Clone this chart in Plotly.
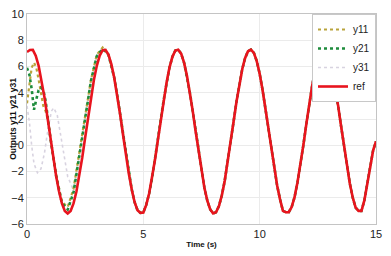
import plotly.graph_objects as go

# Reference signal, sampled every 0.125 s from 0 to 15 s
t_ref = [i * 0.125 for i in range(121)]
ref = [7.10, 7.26, 7.27, 6.83, 6.06, 4.98, 3.66, 2.18, 0.62, -0.91,
       -2.32, -3.51, -4.43, -5.00, -5.20, -5.01, -4.43, -3.53, -2.34, -0.93,
       0.59, 2.15, 3.64, 4.97, 6.05, 6.83, 7.24, 7.26, 6.91, 6.18,
       5.14, 3.85, 2.38, 0.82, -0.71, -2.15, -3.36, -4.34, -4.95, -5.15,
       -5.12, -4.54, -3.68, -2.53, -1.13, 0.39, 1.96, 3.46, 4.79, 5.93,
       6.74, 7.21, 7.28, 6.98, 6.30, 5.29, 4.03, 2.58, 1.03, -0.52,
       -1.97, -3.24, -4.23, -4.89, -5.19, -5.10, -4.63, -3.81, -2.69, -1.31,
       0.19, 1.75, 3.27, 4.65, 5.79, 6.65, 7.16, 7.29, 7.04, 6.41,
       5.45, 4.21, 2.78, 1.24, -0.31, -1.78, -3.07, -4.11, -5.00, -5.10,
       -5.10, -4.71, -3.95, -2.84, -1.51, -0.03, 1.54, 3.07, 4.46, 5.66,
       6.56, 7.12, 7.30, 7.09, 6.51, 5.59, 4.39, 2.98, 1.45, -0.11,
       -1.59, -2.91, -3.98, -4.75, -5.00, -5.00, -4.20, -3.00, -1.60, -0.40,
       0.30]

# Early transient of the outputs (before they settle onto ref at t = 3.75 s)
t_y11 = [0, 0.1, 0.2, 0.3, 0.4, 0.5, 0.6, 0.7, 0.8, 0.9, 1.0, 1.25, 1.5,
         1.75, 2.0, 2.25, 2.5, 2.75, 3.0, 3.25, 3.5]
y11_early = [3.2, 4.8, 5.9, 6.3, 5.9, 5.0, 4.0, 3.0, 2.6, 1.9, 0.7, -2.2,
             -4.3, -4.7, -3.3, -0.6, 2.4, 5.0, 6.9, 7.45, 6.9]

t_y21 = [0, 0.1, 0.2, 0.3, 0.4, 0.5, 0.6, 0.7, 0.8, 0.9, 1.0, 1.25, 1.5,
         1.75, 2.0, 2.25, 2.5, 2.75, 3.0, 3.25, 3.5]
y21_early = [5.9, 5.4, 4.3, 2.7, 3.5, 4.2, 4.4, 4.2, 3.4, 2.0, 0.6, -2.3,
             -4.4, -4.9, -3.6, -0.8, 2.2, 4.9, 6.8, 7.35, 6.9]

t_y31 = [0, 0.1, 0.2, 0.3, 0.45, 0.6, 0.75, 0.9, 1.05, 1.15, 1.3, 1.45,
         1.6, 1.75, 1.9, 2.0, 2.25, 2.5, 2.75, 3.0, 3.25, 3.5]
y31_early = [3.0, 1.8, 0.0, -1.4, -2.1, -1.8, -0.6, 1.2, 2.6, 2.85, 2.3,
             0.8, -1.0, -2.4, -3.0, -3.5, -0.8, 2.2, 4.9, 6.8, 7.3, 6.9]

settle = 30  # index in t_ref of 3.75 s, where outputs coincide with ref
t11 = t_y11 + t_ref[settle:]
y11 = y11_early + ref[settle:]
t21 = t_y21 + t_ref[settle:]
y21 = y21_early + ref[settle:]
t31 = t_y31 + t_ref[settle:]
y31 = y31_early + ref[settle:]

x_ticks = [0, 5, 10, 15]
y_ticks = [-6, -4, -2, 0, 2, 4, 6, 8, 10]

fig = go.Figure()
fig.add_trace(go.Scatter(x=t31, y=y31, name="y31", mode="lines", legendrank=3,
                         line=dict(color="#d8d3e0", width=1.6, dash="dot")))
fig.add_trace(go.Scatter(x=t11, y=y11, name="y11", mode="lines", legendrank=1,
                         line=dict(color="#b9a43c", width=2.2, dash="dot")))
fig.add_trace(go.Scatter(x=t21, y=y21, name="y21", mode="lines", legendrank=2,
                         line=dict(color="#1e8c3c", width=2.6, dash="dot")))
fig.add_trace(go.Scatter(x=t_ref, y=ref, name="ref", mode="lines", legendrank=4,
                         line=dict(color="#e8141e", width=2.6)))

font = "Liberation Sans, Arial, sans-serif"
# the page body adds an 8 px offset, so the figure is sized to fit the window
fig.update_layout(
    width=383, height=248,
    margin=dict(l=19, r=15, t=6, b=32),
    paper_bgcolor="white", plot_bgcolor="white",
    font=dict(family=font, size=10, color="#222"),
    showlegend=True,
    legend=dict(x=1, y=1, xanchor="right", yanchor="top",
                bgcolor="white", bordercolor="#c8c8c8", borderwidth=1,
                font=dict(size=10, color="#222"), itemwidth=30,
                tracegroupgap=0),
    xaxis=dict(range=[0, 15], tickvals=x_ticks, ticks="", automargin=False,
               showgrid=True, gridcolor="#ebebeb", zeroline=False,
               showline=True, linecolor="#c4c4c4", mirror=True,
               ticklabeloverflow="allow",
               tickfont=dict(size=11, color="#222"),
               title=dict(text="<b>Time (s)</b>", font=dict(size=8, color="#111"),
                          standoff=2)),
    yaxis=dict(range=[-6, 10], tickvals=y_ticks, ticks="", automargin=False,
               showgrid=True, gridcolor="#ebebeb", zeroline=False,
               showline=True, linecolor="#c4c4c4", mirror=True,
               ticklabeloverflow="allow",
               tickfont=dict(size=11, color="#222"),
               title=dict(text="<b>Outputs y11 y21 y31</b>",
                          font=dict(size=8.5, color="#111"), standoff=0)),
)

fig.write_html("out.html")
